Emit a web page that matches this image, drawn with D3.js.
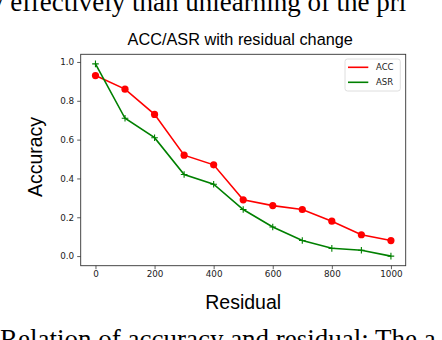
<!DOCTYPE html>
<html>
<head>
<meta charset="utf-8">
<script src="https://cdn.jsdelivr.net/npm/d3@7"></script>
<style>
  body { margin: 0; background: #fff; }
  svg { display: block; }
</style>
</head>
<body>
<div class="container-chart"></div>
<script>
const residuals = [0, 100, 200, 300, 400, 500, 600, 700, 800, 900, 1000];
const acc = [0.93, 0.86, 0.73, 0.52, 0.47, 0.29, 0.26, 0.24, 0.18, 0.11, 0.08];
const asr = [0.99, 0.71, 0.61, 0.42, 0.37, 0.24, 0.15, 0.08, 0.04, 0.03, 0.00];
const xTicks = [0, 200, 400, 600, 800, 1000];
const yTicks = [0.0, 0.2, 0.4, 0.6, 0.8, 1.0];
const seriesNames = ['ACC', 'ASR'];

const width = 442;
const height = 340;
const margin = { top: 54.3, right: 36.3, bottom: 74.3, left: 80.7 };
const tickFont = '"DejaVu Sans", sans-serif';
const labelFont = '"Liberation Sans", Arial, sans-serif';
const paperFont = '"Liberation Serif", "Times New Roman", serif';

const svg = d3.select('.container-chart')
  .append('svg')
  .attr('width', width)
  .attr('height', height);

// surrounding paper text, cut by the page edges as in the source
svg.append('text')
  .attr('x', -10)
  .attr('y', 11)
  .style('font-family', paperFont)
  .style('font-size', '27px')
  .text('y effectively than unlearning of the pri');

svg.append('text')
  .attr('x', 0)
  .attr('y', 348)
  .style('font-family', paperFont)
  .style('font-size', '27px')
  .text('Relation of accuracy and residual: The a');

const plotW = width - margin.left - margin.right;
const plotH = height - margin.top - margin.bottom;

const scaleX = d3.scaleLinear()
  .domain([-50, 1050])
  .range([0, plotW]);

const scaleY = d3.scaleLinear()
  .domain([-0.0495, 1.0395])
  .range([plotH, 0]);

const groupMain = svg.append('g')
  .attr('transform', `translate(${margin.left}, ${margin.top})`);

// axes
const axisX = d3.axisBottom(scaleX)
  .tickValues(xTicks)
  .tickFormat(d3.format('d'))
  .tickSize(3.5)
  .tickPadding(2);

const axisY = d3.axisLeft(scaleY)
  .tickValues(yTicks)
  .tickFormat(d3.format('.1f'))
  .tickSize(3.5)
  .tickPadding(3);

const groupAxisX = groupMain.append('g')
  .attr('transform', `translate(0, ${plotH})`)
  .call(axisX);

const groupAxisY = groupMain.append('g')
  .call(axisY);

[groupAxisX, groupAxisY].forEach(g => {
  g.select('.domain').remove();
  g.selectAll('line').attr('stroke', '#333').attr('stroke-width', 0.8);
  g.selectAll('text')
    .attr('fill', '#222')
    .style('font-family', tickFont)
    .style('font-size', '8.8px');
});

groupMain.append('rect')
  .attr('width', plotW)
  .attr('height', plotH)
  .attr('fill', 'none')
  .attr('stroke', '#333')
  .attr('stroke-width', 0.9);

// lines
const line = d3.line()
  .x((d, i) => scaleX(residuals[i]))
  .y(d => scaleY(d));

const groupChart = groupMain.append('g');

groupChart.append('path')
  .attr('d', line(acc))
  .attr('fill', 'none')
  .attr('stroke', '#ff0000')
  .attr('stroke-width', 1.6);

groupChart.selectAll('circle.point-acc')
  .data(acc)
  .enter()
  .append('circle')
  .attr('class', 'point-acc')
  .attr('cx', (d, i) => scaleX(residuals[i]))
  .attr('cy', d => scaleY(d))
  .attr('r', 3.6)
  .attr('fill', '#ff0000');

groupChart.append('path')
  .attr('d', line(asr))
  .attr('fill', 'none')
  .attr('stroke', '#008000')
  .attr('stroke-width', 1.6);

groupChart.selectAll('path.point-asr')
  .data(asr)
  .enter()
  .append('path')
  .attr('class', 'point-asr')
  .attr('transform', (d, i) => `translate(${scaleX(residuals[i])}, ${scaleY(d)})`)
  .attr('d', 'M-3.3,0H3.3M0,-3.3V3.3')
  .attr('stroke', '#008000')
  .attr('stroke-width', 1.1);

// title and labels
svg.append('text')
  .attr('x', margin.left + plotW / 2 - 3)
  .attr('y', 45)
  .attr('text-anchor', 'middle')
  .style('font-family', labelFont)
  .style('font-size', '16.3px')
  .text('ACC/ASR with residual change');

svg.append('text')
  .attr('x', margin.left + plotW / 2)
  .attr('y', 309)
  .attr('text-anchor', 'middle')
  .style('font-family', labelFont)
  .style('font-size', '19.5px')
  .text('Residual');

svg.append('text')
  .attr('transform', `translate(42, 157) rotate(-90)`)
  .attr('text-anchor', 'middle')
  .style('font-family', labelFont)
  .style('font-size', '19.5px')
  .text('Accuracy');

// legend
const legend = groupMain.append('g')
  .attr('transform', `translate(${plotW - 60.7}, 4.7)`);

legend.append('rect')
  .attr('width', 55.3)
  .attr('height', 32)
  .attr('rx', 2.5)
  .attr('fill', '#fff')
  .attr('fill-opacity', 0.8)
  .attr('stroke', '#d6d6d6')
  .attr('stroke-width', 0.8);

const legendColors = ['#ff0000', '#008000'];
seriesNames.forEach((name, i) => {
  const y = 8.3 + i * 15;
  legend.append('line')
    .attr('x1', 3)
    .attr('x2', 23.3)
    .attr('y1', y)
    .attr('y2', y)
    .attr('stroke', legendColors[i])
    .attr('stroke-width', 1.6);
  legend.append('text')
    .attr('x', 31)
    .attr('y', y + 3.1)
    .attr('fill', '#222')
    .style('font-family', tickFont)
    .style('font-size', '8.5px')
    .text(name);
});
</script>
</body>
</html>
